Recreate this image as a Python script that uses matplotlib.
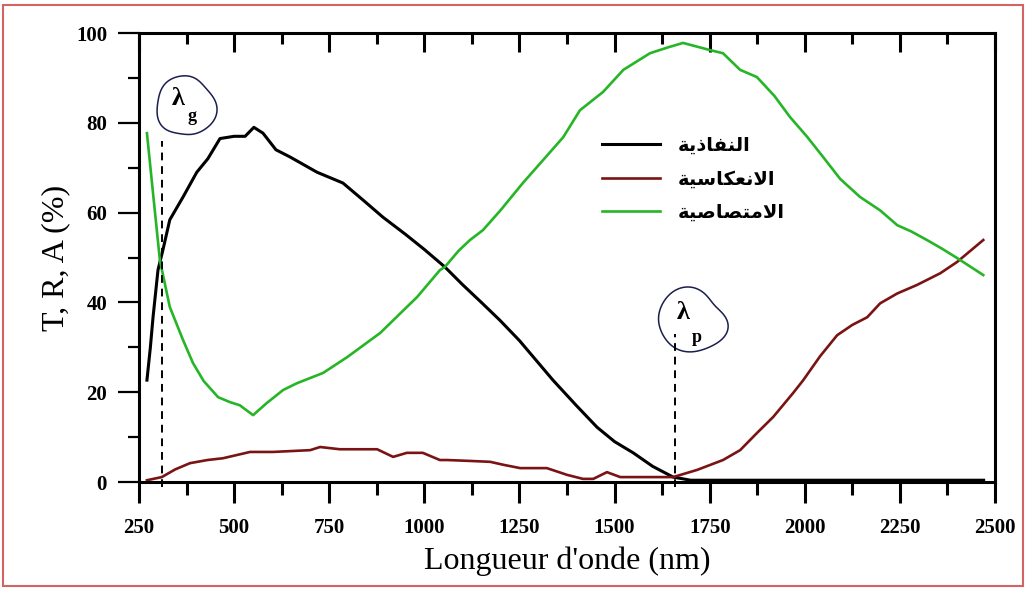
import numpy as np
import matplotlib.pyplot as plt
from matplotlib.patches import Polygon, Rectangle

# Transmission (T), reflection (R) and absorption (A) spectra, in %
wl_T = [271, 280, 287, 300, 313, 331, 366, 402, 431, 463, 500, 529, 552, 576,
        610, 647, 718, 786, 839, 891, 950, 1000, 1054, 1100, 1150, 1199, 1250,
        1300, 1338, 1400, 1454, 1500, 1549, 1600, 1654, 1700, 1800, 1900, 2000,
        2100, 2200, 2300, 2400, 2470]
T = [22.7, 30, 36.7, 47.2, 51.7, 58.4, 63.5, 69, 72, 76.5, 77, 77, 79, 77.7,
     74, 72.4, 69, 66.6, 62.8, 59, 55.2, 51.8, 47.9, 44, 40, 36, 31.5,
     26.5, 22.7, 17, 12.2, 9, 6.5, 3.5, 1.1, 0.4, 0.4, 0.4, 0.4,
     0.4, 0.4, 0.4, 0.4, 0.4]

wl_A = [271, 285, 305, 331, 366, 392, 420, 458, 489, 515, 550, 586, 629, 665,
        734, 797, 884, 981, 1041, 1054, 1090, 1120, 1154, 1200, 1259, 1310, 1365,
        1409, 1470, 1523, 1593, 1640, 1680, 1751, 1785, 1830, 1874, 1920, 1961,
        2005, 2048, 2093, 2145, 2198, 2243, 2280, 2321, 2360, 2400, 2469]
A = [77.7, 66, 49.4, 39, 31.6, 26.5, 22.5, 18.9, 17.8, 17.1, 14.9, 17.6, 20.5, 22,
     24.3, 27.8, 33.2, 41.2, 47.2, 47.9, 51.5, 53.9, 56.1, 60.5, 66.6, 71.5, 76.8,
     82.8, 86.9, 91.8, 95.5, 96.8, 97.8, 96.2, 95.5, 91.8, 90.2, 86, 81.3,
     77, 72.4, 67.5, 63.5, 60.5, 57.2, 55.8, 53.9, 52, 49.9, 46.1]

wl_R = [271, 310, 345, 384, 430, 471, 542, 602, 700, 726, 778, 876, 918, 954,
        996, 1041, 1060, 1120, 1173, 1210, 1252, 1322, 1375, 1417, 1444, 1480,
        1515, 1560, 1612, 1654, 1717, 1785, 1830, 1874, 1917, 1969, 1996, 2040,
        2085, 2125, 2164, 2198, 2243, 2295, 2356, 2400, 2469]
R = [0.4, 1.1, 2.8, 4.2, 4.9, 5.3, 6.7, 6.7, 7.1, 7.8, 7.3, 7.3, 5.6, 6.5,
     6.5, 4.9, 4.9, 4.7, 4.5, 3.8, 3.1, 3.1, 1.6, 0.7, 0.7, 2.2,
     1.1, 1.1, 1.1, 1.1, 2.7, 4.9, 7.1, 10.9, 14.5, 19.8, 22.7, 28,
     32.7, 35, 36.7, 39.8, 42, 43.9, 46.5, 49, 53.9]

# gap wavelength and plasma wavelength
lam_g = 310
lam_p = 1659

# Arabic labels, pre-shaped (presentation forms, visual order)
lbl_T = '\ufe94\ufef3\ufeab\ufe8e\ufed4\ufee8\ufedf\ufe8d'
lbl_R = '\ufe94\ufef4\ufeb3\ufe8e\ufedc\ufecc\ufee7\ufefb\ufe8d'
lbl_A = '\ufe94\ufef4\ufebb\ufe8e\ufebc\ufe98\ufee3\ufefb\ufe8d'

serif = ['Liberation Serif', 'DejaVu Serif']

fig = plt.figure(figsize=(10.27, 5.90), dpi=100)
ax = fig.add_axes([0.1353, 0.183, 0.8336, 0.761])

ax.plot(wl_T, T, color='black', lw=2.2, label=lbl_T)
ax.plot(wl_R, R, color='#7a1414', lw=1.9, label=lbl_R)
ax.plot(wl_A, A, color='#26b526', lw=1.9, label=lbl_A)

ax.set_xlim(250, 2500)
ax.set_ylim(0, 100)
ax.set_xticks(np.arange(250, 2501, 250))
ax.set_xticks(np.arange(375, 2500, 250), minor=True)
ax.set_yticks(np.arange(0, 101, 20))
ax.set_yticks(np.arange(10, 100, 20), minor=True)

for s in ax.spines.values():
    s.set_linewidth(2.2)

ax.tick_params(axis='x', which='major', direction='out', length=15, width=2.2, pad=11,
               top=False)
ax.tick_params(axis='x', which='minor', direction='out', length=9, width=2.2)
ax.tick_params(axis='y', which='major', direction='out', length=15, width=1.6, pad=8)
ax.tick_params(axis='y', which='minor', direction='out', length=8, width=1.6)

# inward ticks along the top spine
top = ax.secondary_xaxis('top')
top.set_xticks(np.arange(250, 2501, 250), labels=[])
top.set_xticks(np.arange(375, 2500, 250), minor=True)
top.tick_params(which='major', direction='in', length=14, width=2.2)
top.tick_params(which='minor', direction='in', length=8, width=2.2)

for lab in ax.get_xticklabels() + ax.get_yticklabels():
    lab.set_fontfamily(serif)
    lab.set_fontweight('bold')
    lab.set_fontsize(15)

ax.set_xlabel("Longueur d'onde (nm)", fontfamily=serif, fontsize=23, labelpad=6)
ax.set_ylabel('T, R, A (%)', fontfamily=serif, fontsize=23, labelpad=4)

# dashed markers at the two characteristic wavelengths
ax.plot([lam_g, lam_g], [-1.2, 76], color='black', lw=1.4, ls=(0, (4, 3)), clip_on=False)
ax.plot([lam_p, lam_p], [-1.2, 33], color='black', lw=1.4, ls=(0, (4, 3)), clip_on=False)


def blob(cx, cy, rx, ry, harm):
    th = np.linspace(0, 2 * np.pi, 200)
    r = 1 + sum(a * np.cos(k * th + p) for k, a, p in harm)
    return np.column_stack([cx + rx * r * np.cos(th), cy + ry * r * np.sin(th)])


ax.add_patch(Polygon(blob(373, 83.7, 74, 6.9, [(2, 0.06, 0.4), (3, 0.05, 1.0), (5, 0.02, 0.3)]),
                     closed=True, fill=False, ec='#1b1f4d', lw=1.1))
ax.add_patch(Polygon(blob(1702, 35.9, 92, 6.7, [(2, 0.08, 2.2), (3, 0.06, 0.8), (4, 0.03, 0.5)]),
                     closed=True, fill=False, ec='#1b1f4d', lw=1.1))

ax.text(352, 85.5, '\u03bb', fontfamily=serif, fontweight='bold', fontsize=19,
        ha='center', va='center')
ax.text(389, 81.5, 'g', fontfamily=serif, fontweight='bold', fontsize=13,
        ha='center', va='center')
ax.text(1680, 37.8, '\u03bb', fontfamily=serif, fontweight='bold', fontsize=19,
        ha='center', va='center')
ax.text(1717, 32.3, 'p', fontfamily=serif, fontweight='bold', fontsize=13,
        ha='center', va='center')

ax.legend(loc='upper left', bbox_to_anchor=(0.52, 0.81), frameon=False,
          handlelength=3.0, handletextpad=0.9, labelspacing=0.75,
          prop={'family': 'DejaVu Sans', 'weight': 'bold', 'size': 14})

# thin red frame round the whole figure
fig.add_artist(Rectangle((0.003, 0.006), 0.993, 0.986, transform=fig.transFigure,
                         fill=False, ec='#d46464', lw=1.5))

fig.savefig('out.png', dpi=100)
